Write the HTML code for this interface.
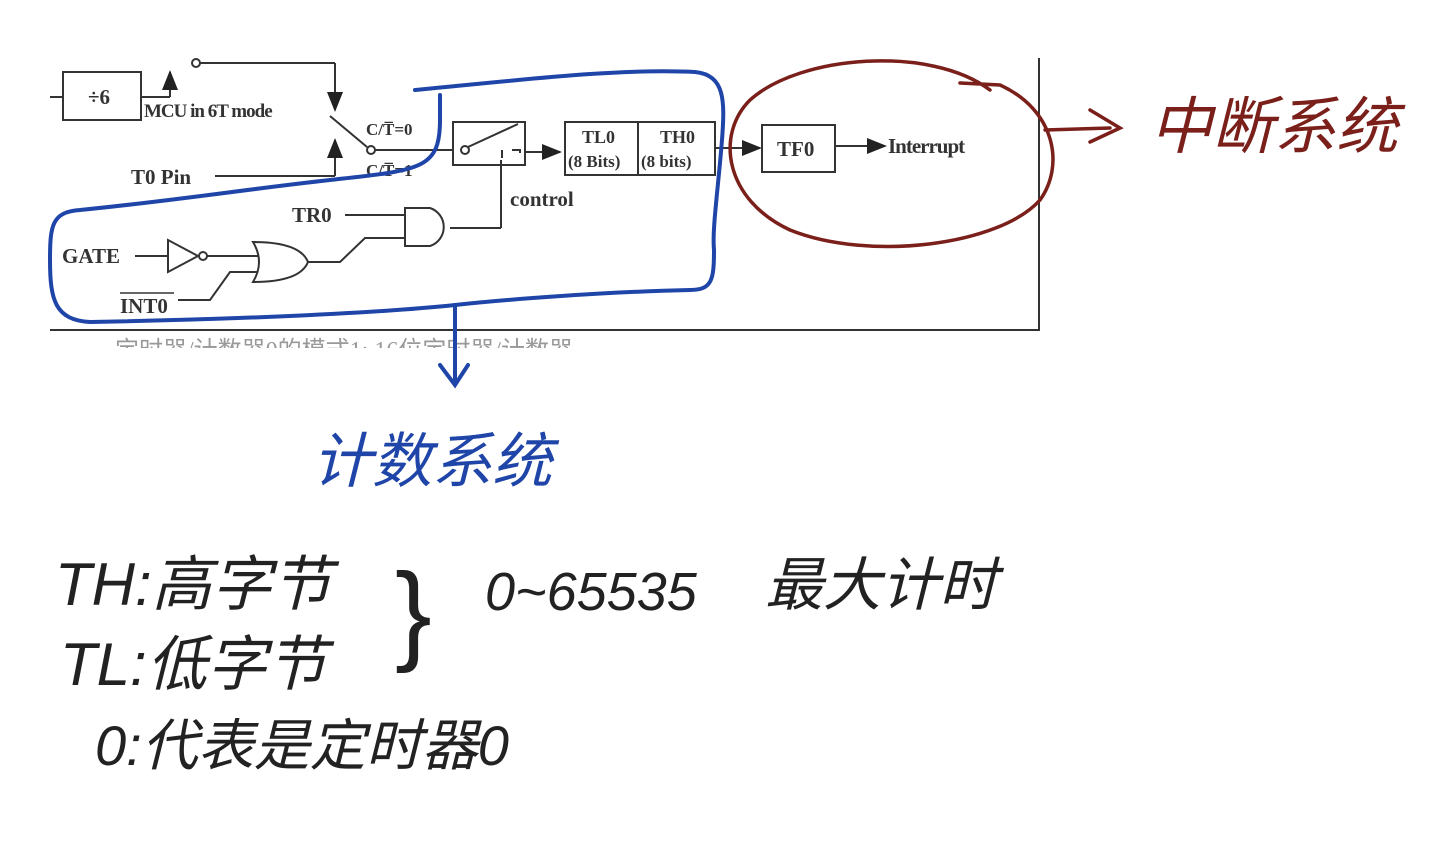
<!DOCTYPE html>
<html><head><meta charset="utf-8"><style>
body{margin:0;background:#fff;width:1435px;height:845px;overflow:hidden}
svg{display:block}
.t{font-family:"Liberation Serif",serif;fill:#333;font-weight:bold}
.h{font-family:"Liberation Sans","Noto Sans CJK SC",sans-serif}
</style></head><body>
<svg width="1435" height="845" viewBox="0 0 1435 845" xmlns="http://www.w3.org/2000/svg">
<defs><marker id="a" markerWidth="10" markerHeight="10" refX="9" refY="5" orient="auto"><path d="M0,1 L10,5 L0,9 z" fill="#222"/></marker></defs>
<g stroke="#333" stroke-width="2" fill="none">
<line x1="1039" y1="58" x2="1039" y2="331"/>
<line x1="50" y1="330" x2="1040" y2="330"/>
<line x1="50" y1="97" x2="63" y2="97"/>
<rect x="63" y="72" width="78" height="48"/>
<line x1="141" y1="97" x2="170" y2="97"/>
<line x1="170" y1="97" x2="170" y2="72" marker-end="url(#a)"/>
<circle cx="196" cy="63" r="4"/>
<line x1="200" y1="63" x2="335" y2="63"/>
<line x1="335" y1="63" x2="335" y2="110" marker-end="url(#a)"/>
<line x1="215" y1="176" x2="335" y2="176"/>
<line x1="335" y1="176" x2="335" y2="140" marker-end="url(#a)"/>
<line x1="330" y1="116" x2="367" y2="147"/>
<circle cx="371" cy="150" r="4"/>
<line x1="375" y1="150" x2="453" y2="150"/>
<rect x="453" y="122" width="72" height="43"/>
<circle cx="465" cy="150" r="4"/>
<line x1="468" y1="147" x2="518" y2="124"/>
<path d="M502 158 L502 150 M512 150 L520 150 L520 153"/>
<line x1="525" y1="152" x2="560" y2="152" marker-end="url(#a)"/>
<rect x="565" y="122" width="150" height="53"/>
<line x1="638" y1="122" x2="638" y2="175"/>
<line x1="715" y1="148" x2="760" y2="148" marker-end="url(#a)"/>
<rect x="762" y="125" width="73" height="47"/>
<line x1="835" y1="146" x2="885" y2="146" marker-end="url(#a)"/>
<line x1="501" y1="160" x2="501" y2="228"/>
<line x1="501" y1="228" x2="450" y2="228"/>
<path d="M405 208 L430 208 A20 20 0 0 1 430 246 L405 246 Z"/>
<line x1="345" y1="215" x2="405" y2="215"/>
<path d="M405 238 L365 238 L340 262 L308 262"/>
<path d="M253 242 Q300 242 308 262 Q300 282 253 282 Q265 262 253 242 Z"/>
<path d="M135 256 L168 256"/>
<path d="M168 240 L168 272 L198 256 Z"/>
<circle cx="203" cy="256" r="4"/>
<line x1="207" y1="256" x2="258" y2="256"/>
<path d="M258 272 L230 272 L210 300 L178 300"/>
</g>
<g class="t" font-size="21">
<text x="88" y="104">÷6</text>
<text x="144" y="117" font-size="19" letter-spacing="-1">MCU in 6T mode</text>
<text x="131" y="184">T0 Pin</text>
<text x="366" y="135" font-size="17">C/T̅=0</text>
<text x="366" y="176" font-size="17">C/T̅=1</text>
<text x="582" y="143" font-size="18">TL0</text>
<text x="568" y="167" font-size="17">(8 Bits)</text>
<text x="660" y="143" font-size="18">TH0</text>
<text x="641" y="167" font-size="17">(8 bits)</text>
<text x="777" y="156">TF0</text>
<text x="888" y="153" letter-spacing="-1">Interrupt</text>
<text x="510" y="206">control</text>
<text x="292" y="222">TR0</text>
<text x="62" y="263">GATE</text>
<text x="120" y="313">INT0</text>
<line x1="120" y1="293" x2="174" y2="293" stroke="#333" stroke-width="1.5"/>
<text x="115" y="358" font-size="24" fill="#999" font-weight="normal">定时器/计数器0的模式1: 16位定时器/计数器</text>
</g>
<rect x="0" y="348" width="1435" height="20" fill="#fff"/>
<g stroke="#1f45a8" stroke-width="4" fill="none" stroke-linecap="round">
<path d="M415 90 C520 80 620 68 695 72 C725 75 725 100 722 140 C718 190 712 230 714 250 C714 280 712 290 690 290 C600 292 500 300 455 305 C360 315 200 320 90 322 C55 320 50 300 50 260 C50 225 52 212 80 210 C180 200 240 190 330 180 C420 170 440 170 440 120 L440 95"/>
<path d="M455 305 L455 383 M440 365 L455 385 L468 365"/>
</g>
<g stroke="#7a1f1a" stroke-width="3.5" fill="none" stroke-linecap="round">
<path d="M990 90 C930 45 800 55 750 100 C715 135 725 200 790 230 C870 262 1000 245 1040 200 C1065 165 1055 110 1000 85 L960 83"/>
<path d="M1045 130 L1110 128 M1090 110 L1120 128 L1090 142"/>
</g>
<g class="h" fill="#7a1f1a" font-size="62" font-style="italic"><text x="1150" y="148">中断系统</text></g>
<g class="h" fill="#1f45a8" font-size="60" font-style="italic"><text x="312" y="482">计数系统</text></g>
<g class="h" fill="#222" font-style="italic">
<text x="55" y="605" font-size="60">TH:高字节</text>
<text x="60" y="685" font-size="60">TL:低字节</text>
<text x="95" y="765" font-size="56">0:代表是定时器0</text>
<text x="395" y="650" font-size="110" font-style="normal" font-weight="300">}</text>
<text x="485" y="610" font-size="54">0~65535</text>
<text x="765" y="605" font-size="58">最大计时</text>
</g>
</svg>
</body></html>
